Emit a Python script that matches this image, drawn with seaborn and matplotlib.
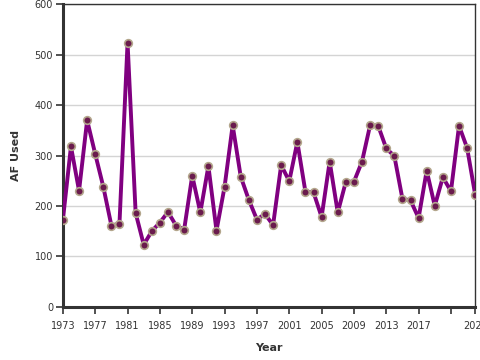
import matplotlib
matplotlib.use("Agg")
import matplotlib.pyplot as plt
import seaborn as sns
import pandas as pd

years = list(range(1973, 2025))
af_used = [172, 318, 230, 370, 303, 238, 161, 165, 524, 186,
           123, 150, 167, 188, 161, 153, 260, 187, 279, 151,
           238, 360, 258, 212, 173, 184, 162, 281, 249, 327,
           228, 227, 178, 288, 187, 248, 248, 288, 360, 359,
           314, 299, 214, 211, 176, 270, 200, 257, 229, 359,
           315, 222]
xticks = [1973, 1977, 1981, 1985, 1989, 1993, 1997, 2001, 2005, 2009, 2013, 2017, 2021, 2024]
xticklabels = ["1973", "1977", "1981", "1985", "1989", "1993", "1997", "2001", "2005", "2009", "2013", "2017", "", "2024"]
yticks = [0, 100, 200, 300, 400, 500, 600]

df = pd.DataFrame({"Year": years, "AF Used": af_used})

sns.set_theme(style="white")
plt.rcParams['font.family'] = ['DejaVu Sans']

fig = plt.figure(figsize=(4.8, 3.6), dpi=100)
ax = fig.add_axes([0.131, 0.148, 0.859, 0.840])

sns.lineplot(data=df, x="Year", y="AF Used", ax=ax, color="#800080", linewidth=2.8,
             marker="o", markersize=5.5, markerfacecolor="#6a1b4d",
             markeredgecolor="#b3a68c", markeredgewidth=1.2, zorder=3)

ax.set_xlim(1973, 2024)
ax.set_ylim(0, 600)
ax.set_xticks(xticks)
ax.set_xticklabels(xticklabels)
ax.set_yticks(yticks)
ax.yaxis.grid(True, color="#d4d4d4", linewidth=1)
ax.xaxis.grid(False)
ax.set_axisbelow(True)

for side in ["left", "bottom"]:
    ax.spines[side].set_color("#333333")
    ax.spines[side].set_linewidth(2.2)
for side in ["top", "right"]:
    ax.spines[side].set_color("#333333")
    ax.spines[side].set_linewidth(1)

ax.tick_params(axis="x", which="major", direction="out", length=5, width=1.2,
               color="#333333", labelsize=7, labelcolor="#333333", pad=5,
               bottom=True)
ax.tick_params(axis="y", which="major", direction="out", length=5, width=1.2,
               color="#333333", labelsize=7, labelcolor="#333333", pad=2,
               left=True)

ax.set_xlabel("Year", fontsize=8, fontweight="bold", color="#333333", labelpad=9)
ax.set_ylabel("AF Used", fontsize=8, fontweight="bold", color="#333333", labelpad=10)

fig.savefig("out.png", dpi=100)
